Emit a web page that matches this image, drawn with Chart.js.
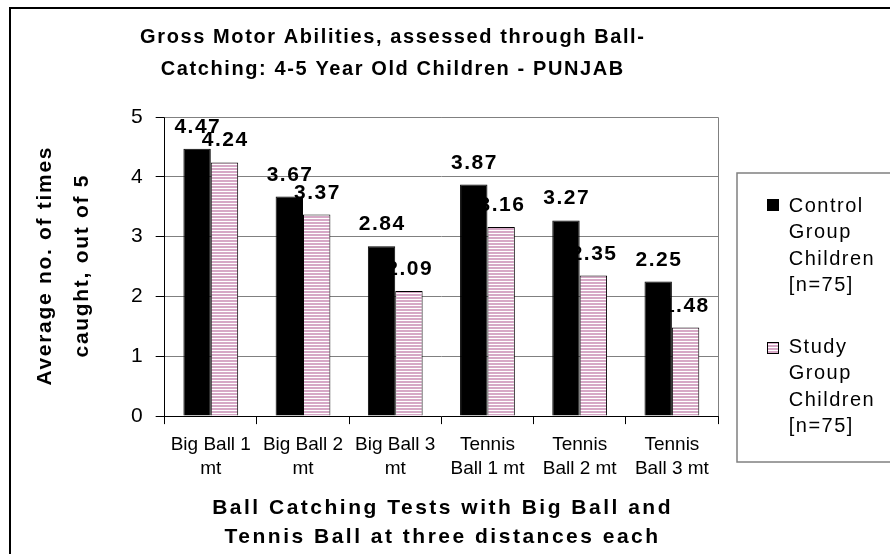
<!DOCTYPE html>
<html>
<head>
<meta charset="utf-8">
<script src="https://cdn.jsdelivr.net/npm/chart.js@4"></script>
<style>
  html, body { margin: 0; padding: 0; background: #fff; }
</style>
</head>
<body>
<canvas id="myChart" width="890" height="554"></canvas>
<script>
const categories = [['Big Ball 1', 'mt'], ['Big Ball 2', 'mt'], ['Big Ball 3', 'mt'], ['Tennis', 'Ball 1 mt'], ['Tennis', 'Ball 2 mt'], ['Tennis', 'Ball 3 mt']]
const controlValues = [4.47, 3.67, 2.84, 3.87, 3.27, 2.25]
const studyValues = [4.24, 3.37, 2.09, 3.16, 2.35, 1.48]
const yTicks = [0, 1, 2, 3, 4, 5]
const titleLines = ['Gross Motor Abilities, assessed through Ball-', 'Catching: 4-5 Year Old Children - PUNJAB']
const xTitleLines = ['Ball Catching Tests with Big Ball and', 'Tennis Ball at three distances each']
const yTitleLines = ['Average no. of times', 'caught, out of 5']
const controlLegend = ['Control', 'Group', 'Children', '[n=75]']
const studyLegend = ['Study', 'Group', 'Children', '[n=75]']

const PINK = '#d6a8c6'
const FONT = 'Arial, "Liberation Sans", sans-serif'

// white bar with pink horizontal stripes
function stripes() {
  let c = document.createElement('canvas')
  c.width = 4
  c.height = 3
  let g = c.getContext('2d')
  g.fillStyle = '#fff'
  g.fillRect(0, 0, 4, 3)
  g.fillStyle = PINK
  g.fillRect(0, 0, 4, 2)
  return g.createPattern(c, 'repeat')
}

function spaced(c, text, x, y, ls) {
  c.letterSpacing = ls + 'px'
  c.fillText(text, x + ls / 2, y)
  c.letterSpacing = '0px'
}

const ctx = document.getElementById('myChart').getContext('2d')
const studyFill = stripes()

const frame = {
  id: 'frame',
  beforeDraw(chart) {
    const c = chart.ctx
    c.save()
    c.fillStyle = '#fff'
    c.fillRect(0, 0, chart.width, chart.height)
    c.strokeStyle = '#000'
    c.lineWidth = 2
    c.beginPath()
    c.moveTo(chart.width + 5, 8)
    c.lineTo(10, 8)
    c.lineTo(10, chart.height + 5)
    c.stroke()
    c.restore()
  },
  beforeDatasetsDraw(chart) {
    const a = chart.chartArea
    const c = chart.ctx
    c.save()
    c.strokeStyle = '#808080'
    c.lineWidth = 1
    c.beginPath()
    c.moveTo(a.left, a.top + 0.5)
    c.lineTo(a.right + 0.5, a.top + 0.5)
    c.lineTo(a.right + 0.5, a.bottom)
    c.stroke()
    c.restore()
  },
  afterDatasetsDraw(chart) {
    const c = chart.ctx
    c.save()
    c.font = 'bold 21px ' + FONT
    c.fillStyle = '#000'
    c.textAlign = 'center'
    c.textBaseline = 'alphabetic'
    chart.data.datasets.forEach((ds, i) => {
      chart.getDatasetMeta(i).data.forEach((bar, j) => {
        spaced(c, ds.data[j].toFixed(2), bar.x, bar.y - 16, 1.5)
      })
    })
    c.restore()
  },
  afterDraw(chart) {
    const c = chart.ctx
    const a = chart.chartArea
    c.save()
    c.fillStyle = '#000'
    c.textAlign = 'center'
    c.textBaseline = 'alphabetic'

    // chart title
    c.font = 'bold 20px ' + FONT
    titleLines.forEach((t, i) => spaced(c, t, 392, 43 + i * 32, 1.6))

    // x axis title
    c.font = 'bold 21px ' + FONT
    xTitleLines.forEach((t, i) => spaced(c, t, (a.left + a.right) / 2, 514 + i * 29, 2.5))

    // y axis title
    c.save()
    c.translate(45, (a.top + a.bottom) / 2)
    c.rotate(-Math.PI / 2)
    c.textBaseline = 'middle'
    yTitleLines.forEach((t, i) => spaced(c, t, 0, i * 37, 1.7))
    c.restore()

    // legend
    c.strokeStyle = '#808080'
    c.lineWidth = 1.5
    c.strokeRect(737, 173, 200, 289)
    c.font = '20px ' + FONT
    c.textAlign = 'left'
    controlLegend.forEach((t, i) => spaced(c, t, 788, 212 + i * 26.3, 1.5))
    studyLegend.forEach((t, i) => spaced(c, t, 788, 353 + i * 26.3, 1.5))
    c.fillStyle = '#000'
    c.fillRect(767, 199, 12, 12)
    c.fillStyle = studyFill
    c.fillRect(767, 342, 12, 12)
    c.strokeStyle = '#000'
    c.lineWidth = 1
    c.strokeRect(767.5, 342.5, 11, 11)
    c.restore()
  }
}

const myChart = new Chart(ctx, {
  type: 'bar',
  data: {
    labels: categories,
    datasets: [
      {
        label: 'Control Group Children [n=75]',
        data: controlValues,
        backgroundColor: '#000',
        borderColor: '#000',
        borderWidth: 1,
        barPercentage: 1,
        categoryPercentage: 0.594
      },
      {
        label: 'Study Group Children [n=75]',
        data: studyValues,
        backgroundColor: studyFill,
        borderColor: '#000',
        borderWidth: 1,
        barPercentage: 1,
        categoryPercentage: 0.594
      }
    ]
  },
  options: {
    responsive: false,
    animation: false,
    layout: {
      padding: { left: 118, right: 172, top: 117, bottom: 64 }
    },
    scales: {
      x: {
        border: { color: '#000', width: 1 },
        grid: {
          display: true,
          drawOnChartArea: false,
          offset: true,
          color: '#000',
          tickColor: '#000',
          tickLength: 8
        },
        ticks: {
          color: '#000',
          padding: 9,
          maxRotation: 0,
          autoSkip: false,
          font: { family: FONT, size: 19, lineHeight: 1.26 }
        }
      },
      y: {
        min: 0,
        max: 5,
        afterBuildTicks: axis => {
          axis.ticks = yTicks.map(v => ({ value: v }))
        },
        border: { color: '#000', width: 1 },
        grid: {
          color: '#808080',
          tickColor: '#000',
          tickLength: 9
        },
        ticks: {
          color: '#000',
          padding: 13,
          font: { family: FONT, size: 21 }
        }
      }
    },
    plugins: {
      legend: { display: false },
      title: { display: false },
      tooltip: { enabled: false }
    }
  },
  plugins: [frame]
})
</script>
</body>
</html>
